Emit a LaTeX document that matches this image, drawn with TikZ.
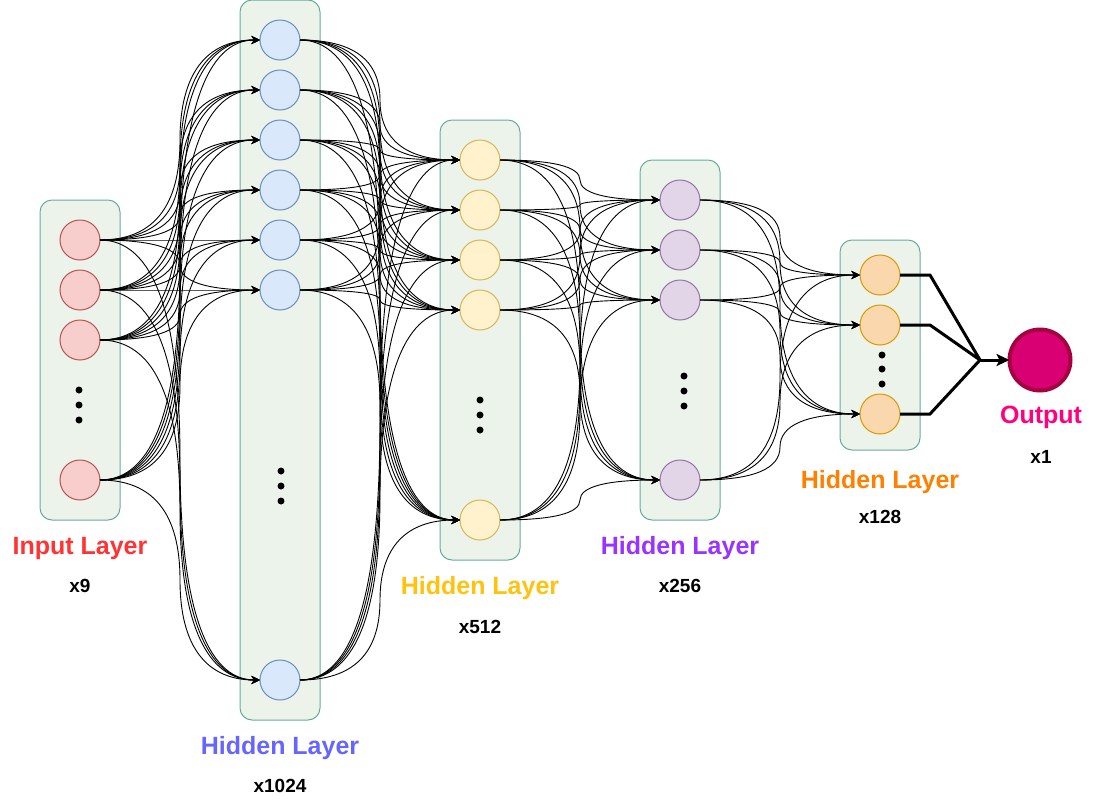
\documentclass[tikz,border=0pt]{standalone}
\usepackage{fontspec}
\setmainfont{Liberation Sans}
\usetikzlibrary{arrows.meta,calc}
\definecolor{boxfill}{HTML}{EBF3EA}
\definecolor{boxdraw}{HTML}{67AB9F}
\definecolor{redfill}{HTML}{F8CECC}\definecolor{reddraw}{HTML}{B85450}
\definecolor{bluefill}{HTML}{DAE8FC}\definecolor{bluedraw}{HTML}{6C8EBF}
\definecolor{yelfill}{HTML}{FFF2CC}\definecolor{yeldraw}{HTML}{D6B656}
\definecolor{purfill}{HTML}{E1D5E7}\definecolor{purdraw}{HTML}{9673A6}
\definecolor{orafill}{HTML}{FAD7AC}\definecolor{oradraw}{HTML}{D79B00}
\definecolor{outfill}{HTML}{D80073}\definecolor{outdraw}{HTML}{A50040}
\definecolor{tred}{HTML}{FF3333}
\definecolor{tblue}{HTML}{6666FF}
\definecolor{tyel}{HTML}{FFC20E}
\definecolor{tpur}{HTML}{9933FF}
\definecolor{tora}{HTML}{FF8000}
\definecolor{tpink}{HTML}{FF0080}
\newcommand\nnedge[2]{\draw[edge] let \p1=(#1.east),\p2=(#2.west) in
  (\p1) .. controls ({\x1+(\x2-\x1)/3},\y1) and ({(\x1+\x2)/2},{(\y1+\y2)/2+(\y1-\y2)/3})
  .. ({(\x1+\x2)/2},{(\y1+\y2)/2})
  .. controls ({(\x1+\x2)/2},{(\y1+\y2)/2+(\y2-\y1)/3}) and ({\x2-(\x2-\x1)/3},\y2) .. (\p2);}
\tikzset{
  layerbox/.style={draw=boxdraw,fill=boxfill,rounded corners=12pt,line width=1pt,minimum width=80pt,inner sep=0pt,outer sep=0pt},
  neuron/.style={circle,minimum size=40pt,inner sep=0pt,outer sep=0pt,line width=1pt},
  nred/.style={neuron,fill=redfill,draw=reddraw},
  nblue/.style={neuron,fill=bluefill,draw=bluedraw},
  nyel/.style={neuron,fill=yelfill,draw=yeldraw},
  npur/.style={neuron,fill=purfill,draw=purdraw},
  nora/.style={neuron,fill=orafill,draw=oradraw},
  edge/.style={line width=0.9pt,-{Stealth[length=8.5pt,width=8pt,inset=2.5pt]}},
  thick edge/.style={line width=3pt,miter limit=10},
  title/.style={font=\fontsize{25}{30}\selectfont\bfseries,inner sep=0pt},
  count/.style={font=\fontsize{19}{23}\selectfont\bfseries,inner sep=0pt},
  dotmark/.style={circle,fill=black,minimum size=7pt,inner sep=0pt},
}
\begin{document}
\begin{tikzpicture}[x=1pt,y=-1pt]
\useasboundingbox (0,0) rectangle (1120,801);
% layer boxes
\node[layerbox,minimum height=320pt] (boxI) at (80,360) {};
\node[layerbox,minimum height=720pt] (boxA) at (280,360) {};
\node[layerbox,minimum height=440pt] (boxB) at (480,340) {};
\node[layerbox,minimum height=360pt] (boxC) at (680,340) {};
\node[layerbox,minimum height=210pt] (boxD) at (880,345) {};
% input layer
\node[nred] (i1) at (80,240) {};
\node[nred] (i2) at (80,290) {};
\node[nred] (i3) at (80,340) {};
\node[nred] (i4) at (80,480) {};
% hidden 1024
\node[nblue] (a1) at (280,40) {};
\node[nblue] (a2) at (280,90) {};
\node[nblue] (a3) at (280,140) {};
\node[nblue] (a4) at (280,190) {};
\node[nblue] (a5) at (280,240) {};
\node[nblue] (a6) at (280,290) {};
\node[nblue] (a7) at (280,680) {};
% hidden 512
\node[nyel] (b1) at (480,160) {};
\node[nyel] (b2) at (480,210) {};
\node[nyel] (b3) at (480,260) {};
\node[nyel] (b4) at (480,310) {};
\node[nyel] (b5) at (480,520) {};
% hidden 256
\node[npur] (c1) at (680,200) {};
\node[npur] (c2) at (680,250) {};
\node[npur] (c3) at (680,300) {};
\node[npur] (c4) at (680,480) {};
% hidden 128
\node[nora] (d1) at (880,275) {};
\node[nora] (d2) at (880,325) {};
\node[nora] (d3) at (880,414) {};
% output
\node[circle,minimum size=61pt,inner sep=0pt,outer sep=0pt,line width=4pt,fill=outfill,draw=outdraw] (out) at (1040,360) {};
% ellipsis dots
\foreach \y [count=\k] in {390,405,420} \node[dotmark] (dI\k) at (79,\y) {};
\foreach \y [count=\k] in {471,486,501} \node[dotmark] (dA\k) at (281,\y) {};
\foreach \y [count=\k] in {400,415,430} \node[dotmark] (dB\k) at (480,\y) {};
\foreach \y [count=\k] in {376,391,406} \node[dotmark] (dC\k) at (684,\y) {};
\foreach \y [count=\k] in {355,369,384} \node[dotmark] (dD\k) at (882,\y) {};
% connections
\foreach \s in {i1,i2,i3,i4}{\foreach \t in {a1,a2,a3,a4,a5,a6,a7}{\nnedge{\s}{\t}}}
\foreach \s in {a1,a2,a3,a4,a5,a6,a7}{\foreach \t in {b1,b2,b3,b4,b5}{\nnedge{\s}{\t}}}
\foreach \s in {b1,b2,b3,b4,b5}{\foreach \t in {c1,c2,c3,c4}{\nnedge{\s}{\t}}}
\foreach \s in {c1,c2,c3,c4}{\foreach \t in {d1,d2,d3}{\nnedge{\s}{\t}}}
% output connections
\coordinate (merge) at (980,360);
\draw[thick edge] (d1.east) -- ++(30,0) -- (merge);
\draw[thick edge] (d2.east) -- ++(30,0) -- (merge);
\draw[thick edge] (d3.east) -- ++(30,0) -- (merge);
\draw[line width=3pt,-{Stealth[length=13pt,width=12pt,inset=3pt]}] (merge) -- (out.west);
% labels
\node[title,text=tred] (tI) at (80,548) {Input Layer};
\node[count] (nI) at (80,586) {x9};
\node[title,text=tblue] (tA) at (280,748) {Hidden Layer};
\node[count] (nA) at (280,786) {x1024};
\node[title,text=tyel] (tB) at (480,588) {Hidden Layer};
\node[count] (nB) at (480,627) {x512};
\node[title,text=tpur] (tC) at (680,548) {Hidden Layer};
\node[count] (nC) at (680,586) {x256};
\node[title,text=tora] (tD) at (880,482) {Hidden Layer};
\node[count] (nD) at (880,517) {x128};
\node[title,text=tpink] (tO) at (1041,417) {Output};
\node[count] (nO) at (1041,457) {x1};
\end{tikzpicture}
\end{document}
